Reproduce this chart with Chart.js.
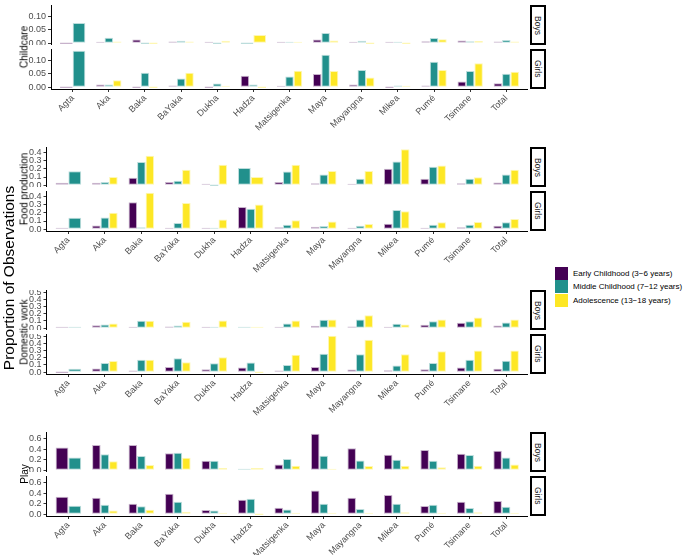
<!DOCTYPE html>
<html><head><meta charset="utf-8">
<script src="https://cdn.jsdelivr.net/npm/chart.js@4.4.1/dist/chart.umd.min.js"></script>
<style>
body{margin:0;background:#fff;width:685px;height:555px;position:relative;overflow:hidden;font-family:"Liberation Sans",Arial,sans-serif;}
canvas.c{position:absolute;left:0;}
.strip{position:absolute;left:530px;width:16px;box-sizing:border-box;border:2px solid #000;background:#fff;display:flex;align-items:center;justify-content:center;}
.strip span{writing-mode:vertical-rl;font-size:8.5px;color:#1a1a1a;}
.ytitle{position:absolute;transform:translate(-50%,-50%) rotate(-90deg);white-space:nowrap;font-size:10px;color:#000;}
.big{font-size:15.5px;}
.legend{position:absolute;left:555px;top:267px;width:135px;}
.legend .row{display:flex;align-items:center;height:13.3px;}
.legend .sw{width:13px;height:13px;margin-right:5px;flex:none;}
.legend .tx{font-size:8px;color:#000;white-space:nowrap;}
</style></head>
<body>
<script>
// ---------- data ----------
const categories = ['Agta','Aka','Baka','BaYaka','Dukha','Hadza','Matsigenka','Maya','Mayangna','Mikea','Pumé','Tsimane','Total'];
const ageGroups = ['Early Childhood (3\u22126 years)','Middle Childhood (7\u221212 years)','Adolescence (13\u221218 years)'];
const sexes = ['Boys','Girls'];
const activities = ['Childcare','Food production','Domestic work','Play'];

// Childcare
const childcareBoysEarly  = [0, 0.002, 0.014, 0.006, 0.003, null, 0.001, 0.014, 0.002, 0.003, 0.007, 0.010, 0.006];
const childcareBoysMiddle = [0.075, 0.020, 0, 0.009, 0, 0, 0.003, 0.038, 0.009, 0.003, 0.019, 0.007, 0.012];
const childcareBoysAdol   = [null, 0.006, 0, 0.006, 0.009, 0.030, 0.004, 0.010, 0, 0, 0.015, 0.008, 0.006];
const childcareGirlsEarly  = [0, 0.010, 0, 0.006, 0, 0.042, 0.004, 0.049, 0.010, 0, 0.006, 0.021, 0.015];
const childcareGirlsMiddle = [0.135, 0.010, 0.054, 0.032, 0.014, 0.010, 0.040, 0.120, 0.064, 0.006, 0.094, 0.060, 0.050];
const childcareGirlsAdol   = [null, 0.026, 0, 0.054, 0.004, 0, 0.061, 0.060, 0.036, 0.004, 0.064, 0.089, 0.057];

// Food production
const foodBoysEarly  = [0.030, 0.030, 0.090, 0.040, 0.015, null, 0.040, 0.024, 0.008, 0.200, 0.078, 0.024, 0.033];
const foodBoysMiddle = [0.170, 0.040, 0.285, 0.053, 0, 0.210, 0.167, 0.130, 0.078, 0.290, 0.225, 0.078, 0.130];
const foodBoysAdol   = [null, 0.100, 0.360, 0.190, 0.250, 0.100, 0.250, 0.175, 0.175, 0.440, 0.240, 0.098, 0.190];
const foodGirlsEarly  = [0.013, 0.046, 0.330, 0.010, 0.005, 0.270, 0.025, 0.030, 0.004, 0.067, 0.004, 0.025, 0.042];
const foodGirlsMiddle = [0.140, 0.143, 0.025, 0.076, 0.013, 0.250, 0.055, 0.038, 0.042, 0.236, 0.055, 0.055, 0.084];
const foodGirlsAdol   = [null, 0.200, 0.445, 0.320, 0.118, 0.303, 0.110, 0.093, 0.063, 0.220, 0.084, 0.088, 0.126];

// Domestic work
const domesticBoysEarly  = [0.004, 0.042, 0.019, 0.023, 0.014, null, 0.010, 0.033, 0.023, 0.014, 0.047, 0.075, 0.037];
const domesticBoysMiddle = [0.014, 0.050, 0.103, 0.037, 0.019, 0.014, 0.065, 0.117, 0.120, 0.060, 0.098, 0.098, 0.080];
const domesticBoysAdol   = [null, 0.065, 0.103, 0.089, 0.107, 0.003, 0.107, 0.120, 0.180, 0.050, 0.120, 0.150, 0.120];
const domesticGirlsEarly  = [0, 0.050, 0.023, 0.073, 0.041, 0.064, 0.023, 0.073, 0.037, 0.028, 0.041, 0.064, 0.046];
const domesticGirlsMiddle = [0.046, 0.128, 0.174, 0.193, 0.124, 0.133, 0.100, 0.257, 0.250, 0.092, 0.128, 0.174, 0.160];
const domesticGirlsAdol   = [null, 0.156, 0.174, 0.138, 0.206, 0, 0.243, 0.505, 0.450, 0.248, 0.290, 0.300, 0.300];

// Play
const playBoysEarly  = [0.430, 0.480, 0.480, 0.320, 0.180, null, 0.110, 0.690, 0.415, 0.294, 0.383, 0.313, 0.370];
const playBoysMiddle = [0.240, 0.300, 0.270, 0.330, 0.180, 0.025, 0.210, 0.274, 0.185, 0.200, 0.180, 0.290, 0.240];
const playBoysAdol   = [null, 0.170, 0.100, 0.236, 0.040, 0.040, 0.083, 0.020, 0.077, 0.083, 0.057, 0.083, 0.110];
const playGirlsEarly  = [0.330, 0.310, 0.200, 0.390, 0.077, 0.274, 0.120, 0.447, 0.313, 0.364, 0.153, 0.236, 0.250];
const playGirlsMiddle = [0.160, 0.180, 0.150, 0.236, 0.070, 0.294, 0.090, 0.200, 0.100, 0.200, 0.180, 0.115, 0.140];
const playGirlsAdol   = [null, 0.070, 0.083, 0.045, 0.010, 0, 0.025, 0.010, 0.013, 0.038, 0.013, 0.038, 0.025];

// tick labels
const childcareTicks = [0, 0.05, 0.10];
const foodTicks = [0, 0.1, 0.2, 0.3, 0.4];
const domesticTicks = [0, 0.1, 0.2, 0.3, 0.4, 0.5];
const playTicks = [0, 0.2, 0.4, 0.6];

// ---------- layout / style ----------
const FONT = '"Liberation Sans", Arial, sans-serif';
const fills = ['#440154', '#21908C', '#FDE725'];
const outlines = ['rgba(68,1,84,0.3)', 'rgba(33,144,140,0.3)', 'rgba(253,231,37,0.35)'];
const PANEL_RIGHT = 528, PANEL_H = 40, XAXIS_H = 62;

const rows = [
  {title: activities[0], boys: [childcareBoysEarly, childcareBoysMiddle, childcareBoysAdol], girls: [childcareGirlsEarly, childcareGirlsMiddle, childcareGirlsAdol], ticks: childcareTicks, dec: 2, left: 51, boysTop: 5, girlsTop: 49},
  {title: activities[1], boys: [foodBoysEarly, foodBoysMiddle, foodBoysAdol], girls: [foodGirlsEarly, foodGirlsMiddle, foodGirlsAdol], ticks: foodTicks, dec: 1, left: 46.5, boysTop: 147, girlsTop: 191},
  {title: activities[2], boys: [domesticBoysEarly, domesticBoysMiddle, domesticBoysAdol], girls: [domesticGirlsEarly, domesticGirlsMiddle, domesticGirlsAdol], ticks: domesticTicks, dec: 1, left: 46.5, boysTop: 290, girlsTop: 334},
  {title: activities[3], boys: [playBoysEarly, playBoysMiddle, playBoysAdol], girls: [playGirlsEarly, playGirlsMiddle, playGirlsAdol], ticks: playTicks, dec: 1, left: 46.5, boysTop: 432, girlsTop: 476}
];

function addDiv(cls, styles, html) {
  const d = document.createElement('div');
  d.className = cls;
  Object.assign(d.style, styles);
  d.innerHTML = html;
  document.body.appendChild(d);
  return d;
}

function makePanel(series, row, top, showX, sexLabel) {
  const cv = document.createElement('canvas');
  cv.className = 'c';
  cv.width = PANEL_RIGHT;
  cv.height = PANEL_H + (showX ? XAXIS_H : 0);
  cv.style.top = top + 'px';
  document.body.appendChild(cv);

  const all = row.boys.concat(row.girls).flat().filter(v => v !== null);
  const maxV = Math.max(...all);
  const yMin = -0.05 * maxV, yMax = 1.05 * maxV;

  new Chart(cv, {
    type: 'bar',
    data: {
      labels: categories,
      datasets: series.map((d, i) => ({
        label: ageGroups[i], data: d,
        backgroundColor: fills[i], borderColor: outlines[i], borderWidth: 1,
        borderSkipped: false, minBarLength: 1.5, skipNull: true,
        categoryPercentage: 0.7, barPercentage: 1.0
      }))
    },
    options: {
      responsive: false, animation: false, devicePixelRatio: 1, events: [],
      layout: {padding: 0},
      plugins: {legend: {display: false}, tooltip: {enabled: false}},
      scales: {
        x: {
          display: showX, offset: true,
          grid: {display: true, drawOnChartArea: false, drawTicks: true, tickLength: 3, color: '#333', offset: false},
          border: {display: true, color: '#000', width: 1},
          ticks: {autoSkip: false, maxRotation: 45, minRotation: 45, padding: 1, color: '#4d4d4d', font: {size: 9, family: FONT}},
          afterBuildTicks: s => { s._startValue = -0.6; s._valueRange = categories.length - 1 + 1.2; },
          afterFit: s => { s.height = showX ? XAXIS_H : 0; s.paddingLeft = 0; s.paddingRight = 0; }
        },
        y: {
          min: yMin, max: yMax,
          afterBuildTicks: s => { s.ticks = row.ticks.map(v => ({value: v})); },
          ticks: {autoSkip: false, callback: v => Number(v).toFixed(row.dec), padding: 2, color: '#4d4d4d', font: {size: 9, family: FONT}},
          grid: {display: true, drawOnChartArea: false, drawTicks: true, tickLength: 3, color: '#333'},
          border: {display: true, color: '#000', width: 1},
          afterFit: s => { s.width = row.left; s.paddingTop = 0; s.paddingBottom = 0; }
        }
      }
    }
  });

  addDiv('strip', {top: top + 'px', height: PANEL_H + 'px'}, '<span>' + sexLabel + '</span>');
}

rows.forEach(row => {
  makePanel(row.boys, row, row.boysTop, false, sexes[0]);
  makePanel(row.girls, row, row.girlsTop, true, sexes[1]);
  const cy = (row.boysTop + row.girlsTop + PANEL_H) / 2;
  addDiv('ytitle', {left: '23.5px', top: cy + 'px'}, row.title);
});

addDiv('ytitle big', {left: '9px', top: '278px'}, 'Proportion of Observations');

const lg = addDiv('legend', {}, '');
ageGroups.forEach((g, i) => {
  lg.innerHTML += '<div class="row"><div class="sw" style="background:' + fills[i] + '"></div><div class="tx">' + g + '</div></div>';
});
</script>
</body></html>
